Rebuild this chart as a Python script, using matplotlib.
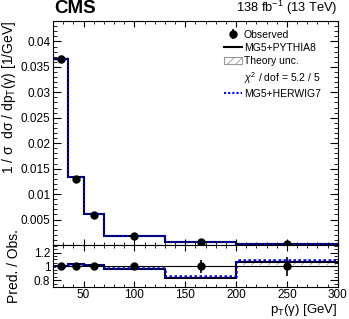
import numpy as np
import matplotlib
matplotlib.use("Agg")
import matplotlib.pyplot as plt
from matplotlib.lines import Line2D
from matplotlib.patches import Patch
from matplotlib.ticker import MultipleLocator

plt.rcParams['font.family'] = ['Liberation Sans', 'DejaVu Sans']
plt.rcParams['mathtext.fontset'] = 'custom'
plt.rcParams['mathtext.rm'] = 'Liberation Sans'
plt.rcParams['mathtext.it'] = 'Liberation Sans:italic'
plt.rcParams['mathtext.default'] = 'regular'
plt.rcParams['hatch.linewidth'] = 0.6
plt.rcParams['hatch.color'] = '#999999'

# bins in photon pT [GeV]
edges = np.array([20, 35, 50, 70, 130, 200, 300])
centers = np.array([27.5, 42.5, 60, 100, 165, 250])

# normalised cross section [1/GeV]
obs = np.array([0.0366, 0.0129, 0.0059, 0.00180, 0.00068, 0.00022])
obs_relerr = np.array([0.016, 0.02, 0.02, 0.03, 0.095, 0.14])
pythia = np.array([0.0366, 0.01335, 0.00602, 0.00172, 0.000568, 0.000234])
herwig = np.array([0.0366, 0.01329, 0.00602, 0.001746, 0.000585, 0.000239])
theory_relunc = np.array([0.01, 0.01, 0.01, 0.012, 0.02, 0.035])

r_py = pythia / obs
r_hw = herwig / obs

fig = plt.figure(figsize=(3.49, 3.19), dpi=100)
ax = fig.add_axes([0.152, 0.232, 0.816, 0.702])
rax = fig.add_axes([0.152, 0.1, 0.816, 0.132], sharex=ax)

# main panel
ax.stairs(pythia * (1 + theory_relunc), edges, baseline=pythia * (1 - theory_relunc),
          fill=True, facecolor='none', edgecolor='#999999', hatch='////', lw=0)
ax.stairs(pythia, edges, baseline=None, color='black', lw=1.5)
ax.stairs(herwig, edges, baseline=None, color='#0000ff', lw=1.5, linestyle=(0, (1, 1)))
ax.errorbar(centers, obs, yerr=obs * obs_relerr, fmt='o', color='black',
            ms=5, lw=1.2, capsize=1.5, zorder=5)

ax.set_xlim(20, 300)
ax.set_ylim(0, 0.044)
ax.set_yticks([0.005, 0.01, 0.015, 0.02, 0.025, 0.03, 0.035, 0.04])
ax.set_yticklabels(['0.005', '0.01', '0.015', '0.02', '0.025', '0.03', '0.035', '0.04'])
ax.yaxis.set_minor_locator(MultipleLocator(0.001))
ax.xaxis.set_major_locator(MultipleLocator(50))
ax.xaxis.set_minor_locator(MultipleLocator(10))
ax.tick_params(labelbottom=False)
ax.set_ylabel('1 / σ  dσ / dp$_{T}$(γ) [1/GeV]', loc='top', fontsize=10, labelpad=2)

ax.text(0.005, 1.018, 'CMS', transform=ax.transAxes, fontsize=13.5,
        fontweight='bold', ha='left', va='bottom')
ax.text(1.0, 1.018, '138 fb$^{-1}$ (13 TeV)', transform=ax.transAxes,
        fontsize=9.3, ha='right', va='bottom')

obs_h = ax.errorbar([], [], yerr=[], fmt='o', color='black', ms=5, lw=1.2, capsize=1.5)
handles = [obs_h,
           Line2D([], [], color='black', lw=1.5),
           Patch(facecolor='none', edgecolor='#999999', hatch='////', lw=0.8),
           Line2D([], [], color='none'),
           Line2D([], [], color='#0000ff', lw=1.5, linestyle=(0, (1, 1)))]
labels = ['Observed', 'MG5+PYTHIA8', 'Theory unc.',
          '$\\mathit{\\chi}^{2}$ / dof = 5.2 / 5', 'MG5+HERWIG7']
ax.legend(handles, labels, loc='upper left', bbox_to_anchor=(0.6, 0.962),
          frameon=False, fontsize=7.5, handlelength=1.7, handletextpad=0.2,
          labelspacing=0.33, borderpad=0, borderaxespad=0)

# ratio panel
rax.stairs(r_py * (1 + theory_relunc), edges, baseline=r_py * (1 - theory_relunc),
           fill=True, facecolor='none', edgecolor='#999999', hatch='////', lw=0)
rax.axhline(1.0, color='black', lw=0.8)
rax.stairs(r_py, edges, baseline=None, color='black', lw=1.5)
rax.stairs(r_hw, edges, baseline=None, color='#0000ff', lw=1.8, linestyle=(0, (1, 1)))
rax.errorbar(centers, np.ones_like(obs), yerr=obs_relerr, fmt='o', color='black',
             ms=5, lw=1.2, capsize=0, zorder=5)
rax.set_ylim(0.7, 1.31)
rax.set_yticks([0.8, 1.0, 1.2])
rax.set_yticklabels(['0.8', '1', '1.2'])
rax.yaxis.set_minor_locator(MultipleLocator(0.05))
rax.set_ylabel('Pred. / Obs.', fontsize=10, labelpad=9)
rax.set_xlabel('p$_{T}$(γ) [GeV]', loc='right', fontsize=9.5, labelpad=0.5)

for a in (ax, rax):
    a.tick_params(which='both', direction='in', top=True, right=True, labelsize=8.5, pad=2)
    a.tick_params(axis='y', which='major', length=5.8)
    a.tick_params(axis='y', which='minor', length=3)
    a.tick_params(axis='x', which='major', length=4.3, pad=1.5)
    a.tick_params(axis='x', which='minor', length=2.2)
    for s in a.spines.values():
        s.set_linewidth(0.8)

fig.savefig('out.png', dpi=100)
